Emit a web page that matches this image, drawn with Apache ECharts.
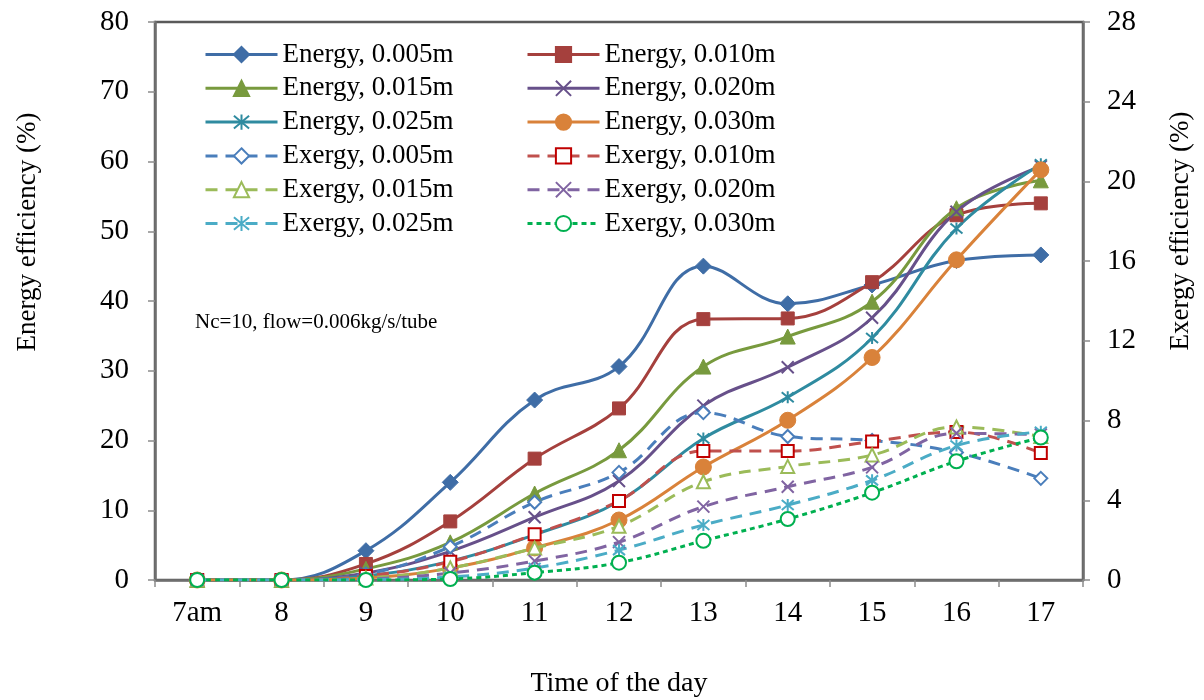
<!DOCTYPE html>
<html>
<head>
<meta charset="utf-8">
<script src="https://cdn.jsdelivr.net/npm/echarts@6/dist/echarts.min.js"></script>
<style>
  html, body { margin: 0; padding: 0; background: #fff; }
  #chart { width: 1204px; height: 700px; }
</style>
</head>
<body>
<div id="chart"></div>
<script>
// Hour of the day (category axis)
const hours = ['7am', '8', '9', '10', '11', '12', '13', '14', '15', '16', '17'];

// Energy efficiency (%), left axis
const energy005 = [0, 0, 4.2, 14.0, 25.8, 30.6, 45.0, 39.6, 42.3, 45.8, 46.6];
const energy010 = [0, 0, 2.3, 8.4, 17.4, 24.6, 37.4, 37.5, 42.7, 52.3, 54.0];
const energy015 = [0, 0, 1.6, 5.4, 12.4, 18.6, 30.6, 34.9, 39.9, 53.3, 57.3];
const energy020 = [0, 0, 1.0, 4.1, 9.0, 14.2, 25.0, 30.5, 37.6, 52.8, 59.3];
const energy025 = [0, 0, 0.6, 2.7, 6.5, 11.3, 20.3, 26.2, 34.7, 50.4, 59.6];
const energy030 = [0, 0, 0.3, 1.7, 4.6, 8.6, 16.2, 22.9, 31.9, 45.9, 58.8];

// Exergy efficiency (%), right axis
const exergy005 = [0, 0, 0.3, 1.67, 3.9, 5.4, 8.4, 7.2, 7.0, 6.4, 5.1];
const exergy010 = [0, 0, 0.2, 0.92, 2.3, 3.97, 6.47, 6.47, 6.95, 7.43, 6.37];
const exergy015 = [0, 0, 0.1, 0.6, 1.6, 2.7, 4.93, 5.7, 6.27, 7.68, 7.2];
const exergy020 = [0, 0, 0.05, 0.35, 0.95, 1.9, 3.68, 4.68, 5.65, 7.36, 7.3];
const exergy025 = [0, 0, 0.02, 0.15, 0.6, 1.5, 2.76, 3.76, 5.0, 6.75, 7.44];
const exergy030 = [0, 0, 0, 0.05, 0.37, 0.87, 1.97, 3.06, 4.38, 5.96, 7.15];

// Tick values of both value axes
const energyTicks = { min: 0, max: 80, interval: 10 };
const exergyTicks = { min: 0, max: 28, interval: 4 };

const FONT = '"Liberation Serif", "Times New Roman", serif';

// Cross and asterisk markers drawn as stroked paths
const CROSS = 'path://M0,0L10,10M10,0L0,10';
const STAR = 'path://M0,0L10,10M10,0L0,10M5,-1L5,11';

function energySeries(name, data, color, symbol, size, strokeOnly) {
  return {
    name, type: 'line', yAxisIndex: 0, data,
    smooth: 0.4, symbol, symbolSize: size,
    lineStyle: { color, width: 3, type: 'solid' },
    itemStyle: strokeOnly
      ? { color: 'rgba(0,0,0,0)', borderColor: color, borderWidth: 2 }
      : { color, borderColor: color, borderWidth: 1 },
    emphasis: { disabled: true },
    z: 2
  };
}

function exergySeries(name, data, lineColor, markColor, symbol, size, dash, strokeOnly) {
  return {
    name, type: 'line', yAxisIndex: 1, data,
    smooth: 0.4, symbol, symbolSize: size,
    lineStyle: { color: lineColor, width: 3, type: dash },
    itemStyle: strokeOnly
      ? { color: 'rgba(0,0,0,0)', borderColor: markColor, borderWidth: 2 }
      : { color: markColor, borderColor: markColor, borderWidth: 2.2 },
    emphasis: { disabled: true },
    z: 3
  };
}

const series = [
  energySeries('Energy, 0.005m', energy005, '#3F6DA6', 'diamond', 16, false),
  energySeries('Energy, 0.010m', energy010, '#A5403D', 'rect', 13, false),
  energySeries('Energy, 0.015m', energy015, '#789A3E', 'triangle', 15, false),
  energySeries('Energy, 0.020m', energy020, '#67508A', CROSS, 12, true),
  energySeries('Energy, 0.025m', energy025, '#2F8BA0', STAR, 12, true),
  energySeries('Energy, 0.030m', energy030, '#D9823A', 'circle', 16, false),
  exergySeries('Exergy, 0.005m', exergy005, '#4A7EBB', '#4A7EBB', 'emptyDiamond', 13, [12, 8], false),
  exergySeries('Exergy, 0.010m', exergy010, '#C0504D', '#C00000', 'emptyRect', 12, [12, 8], false),
  exergySeries('Exergy, 0.015m', exergy015, '#9BBB59', '#9BBB59', 'emptyTriangle', 13, [12, 8], false),
  exergySeries('Exergy, 0.020m', exergy020, '#8064A2', '#8064A2', CROSS, 12, [12, 8], true),
  exergySeries('Exergy, 0.025m', exergy025, '#4BACC6', '#4BACC6', STAR, 12, [12, 8], true),
  exergySeries('Exergy, 0.030m', exergy030, '#00B050', '#00B050', 'emptyCircle', 14, [5, 4], false)
];

const legendCommon = {
  orient: 'vertical',
  top: 36,
  itemWidth: 72,
  itemHeight: 19,
  itemGap: 6.8,
  selectedMode: false,
  lineStyle: { width: 3 },
  textStyle: { fontFamily: FONT, fontSize: 27, color: '#000', lineHeight: 27, padding: [0, 0, 0, 0] }
};

const axisLineStyle = { color: '#6f6f6f', width: 2.5 };
const tickStyle = { color: '#8c8c8c', width: 1.5 };
const labelStyle = { fontFamily: FONT, fontSize: 29, color: '#000' };

const option = {
  backgroundColor: '#fff',
  animation: false,
  grid: {
    left: 155, right: 121, top: 22, bottom: 120,
    outerBoundsMode: 'none',
    containLabel: false,
    show: true, borderColor: '#5a5a5a', borderWidth: 2.5, backgroundColor: '#fff'
  },
  legend: [
    Object.assign({ left: 199, data: ['Energy, 0.005m', 'Energy, 0.015m', 'Energy, 0.025m', 'Exergy, 0.005m', 'Exergy, 0.015m', 'Exergy, 0.025m'] }, legendCommon),
    Object.assign({ left: 521, data: ['Energy, 0.010m', 'Energy, 0.020m', 'Energy, 0.030m', 'Exergy, 0.010m', 'Exergy, 0.020m', 'Exergy, 0.030m'] }, legendCommon)
  ],
  xAxis: {
    type: 'category',
    data: hours,
    boundaryGap: true,
    name: 'Time of the day',
    nameLocation: 'middle',
    nameGap: 90,
    nameTextStyle: { fontFamily: FONT, fontSize: 28, color: '#000' },
    axisLine: { lineStyle: axisLineStyle },
    axisTick: { show: true, length: 7, alignWithLabel: false, lineStyle: tickStyle },
    axisLabel: Object.assign({ margin: 19 }, labelStyle),
    splitLine: { show: false }
  },
  yAxis: [
    {
      type: 'value', position: 'left',
      min: energyTicks.min, max: energyTicks.max, interval: energyTicks.interval,
      axisLine: { show: true, lineStyle: axisLineStyle },
      axisTick: { show: true, length: 7, lineStyle: tickStyle },
      axisLabel: Object.assign({ margin: 26 }, labelStyle),
      splitLine: { show: false }
    },
    {
      type: 'value', position: 'right',
      min: exergyTicks.min, max: exergyTicks.max, interval: exergyTicks.interval,
      axisLine: { show: true, lineStyle: axisLineStyle },
      axisTick: { show: true, length: 7, lineStyle: tickStyle },
      axisLabel: Object.assign({ margin: 24 }, labelStyle),
      splitLine: { show: false }
    }
  ],
  graphic: [
    {
      type: 'text', x: 28, y: 232, rotation: Math.PI / 2,
      style: { text: 'Energy efficiency (%)', fontFamily: FONT, fontSize: 27, fill: '#000', align: 'center', verticalAlign: 'middle' }
    },
    {
      type: 'text', x: 1181, y: 231, rotation: Math.PI / 2,
      style: { text: 'Exergy efficiency (%)', fontFamily: FONT, fontSize: 27, fill: '#000', align: 'center', verticalAlign: 'middle' }
    },
    {
      type: 'text', x: 195, y: 322,
      style: { text: 'Nc=10, flow=0.006kg/s/tube', fontFamily: FONT, fontSize: 21, fill: '#000', align: 'left', verticalAlign: 'middle' }
    }
  ],
  series
};

const chart = echarts.init(document.getElementById('chart'), null, { renderer: 'canvas' });
chart.setOption(option);
</script>
</body>
</html>
